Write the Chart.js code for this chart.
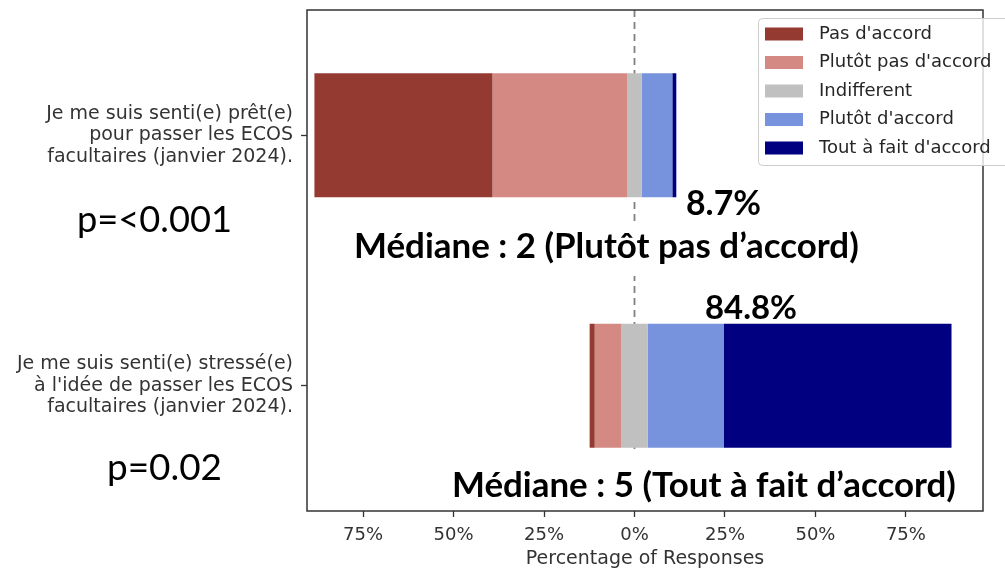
<!DOCTYPE html>
<html>
<head>
<meta charset="utf-8">
<script src="https://cdn.jsdelivr.net/npm/chart.js@4.4.1/dist/chart.umd.min.js"></script>
<style>
  html, body { margin: 0; padding: 0; background: #fff; }
  canvas { display: block; }
</style>
</head>
<body>
<canvas id="myChart" width="1005" height="570"></canvas>
<script>
'use strict';

// ======= data =======

var questions = [
  ['Je me suis senti(e) prêt(e)', 'pour passer les ECOS', 'facultaires (janvier 2024).'],
  ['Je me suis senti(e) stressé(e)', "à l'idée de passer les ECOS", 'facultaires (janvier 2024).']
];

var responseLabels = ["Pas d'accord", "Plutôt pas d'accord", 'Indifferent', "Plutôt d'accord", "Tout à fait d'accord"];
var responseColors = ['#943a30', '#d58983', '#c0c0c0', '#7893dd', '#000080'];

// % of responses for each level, one array per question
var pctReady = [49.2, 37.3, 3.9, 8.5, 1.1];
var pctStress = [1.4, 7.4, 7.2, 21.0, 63.0];

var agreeLabels = ['8.7%', '84.8%'];
var medianLabels = ['Médiane : 2 (Plutôt pas d’accord)', 'Médiane : 5 (Tout à fait d’accord)'];
var pValues = ['p=<0.001', 'p=0.02'];

var xTicks = [-75, -50, -25, 0, 25, 50, 75];
var xMin = -90.5;
var xMax = 96.3;

// ======= end data =======


// bars are centred on the middle of "Indifferent"
function divergingSpans(pcts) {
  var start = -(pcts[0] + pcts[1] + pcts[2] / 2);
  return pcts.map(function (p) {
    var span = [start, start + p];
    start += p;
    return span;
  });
}

var spans = [divergingSpans(pctReady), divergingSpans(pctStress)];

var datasets = responseLabels.map(function (label, i) {
  return {
    label: label,
    data: spans.map(function (s) { return s[i]; }),
    backgroundColor: responseColors[i],
    borderWidth: 0,
    grouped: false,
    barPercentage: 0.495,
    categoryPercentage: 1
  };
});

var textColor = '#333';
var tickFont = { family: 'DejaVu Sans', size: 18, lineHeight: 1.2 };
var labelFont = { family: 'DejaVu Sans', size: 19, lineHeight: 1.14 };

function fitFont(ctx, text, width, weight, family) {
  ctx.font = weight + ' 100px ' + family;
  var size = 100 * width / ctx.measureText(text).width;
  ctx.font = weight + ' ' + size.toFixed(2) + 'px ' + family;
}

// zero line, frame, pasted annotations and the legend box
var overlay = {
  id: 'overlay',
  beforeDatasetsDraw: function (chart) {
    var ctx = chart.ctx;
    var area = chart.chartArea;
    var x0 = chart.scales.x.getPixelForValue(0);
    ctx.save();
    ctx.strokeStyle = '#808080';
    ctx.lineWidth = 1.8;
    ctx.setLineDash([7, 5]);
    ctx.beginPath();
    ctx.moveTo(x0, area.top);
    ctx.lineTo(x0, area.bottom);
    ctx.stroke();
    ctx.restore();
  },
  afterDatasetsDraw: function (chart) {
    var ctx = chart.ctx;
    var area = chart.chartArea;
    ctx.save();
    ctx.strokeStyle = '#333';
    ctx.lineWidth = 1.5;
    ctx.strokeRect(area.left, area.top, area.right - area.left, area.bottom - area.top);

    // white text boxes hide the zero line
    ctx.fillStyle = '#fff';
    ctx.fillRect(345, 224, 525, 52);
    ctx.fillRect(444, 452, 520, 57);

    ctx.fillStyle = '#000';
    ctx.textBaseline = 'alphabetic';
    ctx.textAlign = 'left';
    fitFont(ctx, agreeLabels[0], 75, 'bold', 'Lato');
    ctx.fillText(agreeLabels[0], 686, 215);
    fitFont(ctx, medianLabels[0], 505, 'bold', 'Lato');
    ctx.fillText(medianLabels[0], 354, 258);
    fitFont(ctx, agreeLabels[1], 92, 'bold', 'Lato');
    ctx.fillText(agreeLabels[1], 705, 319);
    fitFont(ctx, medianLabels[1], 504, 'bold', 'Lato');
    ctx.fillText(medianLabels[1], 452, 497);

    fitFont(ctx, pValues[0], 155, 'normal', 'Lato');
    ctx.fillText(pValues[0], 77, 232);
    fitFont(ctx, pValues[1], 115, 'normal', 'Lato');
    ctx.fillText(pValues[1], 107, 480);
    ctx.restore();
  },
  afterDraw: function (chart) {
    var ctx = chart.ctx;
    ctx.save();
    ctx.fillStyle = 'rgba(255,255,255,0.8)';
    ctx.strokeStyle = '#cccccc';
    ctx.lineWidth = 1;
    ctx.beginPath();
    ctx.roundRect(758.5, 18.5, 262, 147, 4);
    ctx.fill();
    ctx.stroke();

    ctx.font = '18px "DejaVu Sans"';
    ctx.textBaseline = 'middle';
    ctx.textAlign = 'left';
    chart.data.datasets.forEach(function (ds, i) {
      var y = 34 + i * 28.5;
      ctx.fillStyle = ds.backgroundColor;
      ctx.fillRect(765, y - 6.5, 38, 13);
      ctx.fillStyle = '#262626';
      ctx.fillText(ds.label, 819, y);
    });
    ctx.restore();
  }
};

var ctx = document.getElementById('myChart').getContext('2d');
var chart = new Chart(ctx, {
  type: 'bar',
  data: {
    labels: questions,
    datasets: datasets
  },
  options: {
    indexAxis: 'y',
    responsive: false,
    animation: false,
    layout: { padding: { top: 10, right: 22, left: 0, bottom: 0 } },
    plugins: {
      legend: { display: false },
      tooltip: { enabled: false }
    },
    scales: {
      x: {
        type: 'linear',
        min: xMin,
        max: xMax,
        afterBuildTicks: function (scale) {
          scale.ticks = xTicks.map(function (v) { return { value: v }; });
        },
        afterFit: function (scale) {
          scale.height = 59;
          scale.paddingLeft = 0;
          scale.paddingRight = 0;
        },
        ticks: {
          callback: function (value) { return Math.abs(value) + '%'; },
          color: textColor,
          font: tickFont,
          padding: 8,
          maxRotation: 0,
          autoSkip: false
        },
        grid: { drawOnChartArea: false, tickLength: 6, tickColor: '#333', tickWidth: 1.3 },
        border: { display: false },
        title: {
          display: true,
          text: 'Percentage of Responses',
          color: textColor,
          font: { family: 'DejaVu Sans', size: 19, lineHeight: 1.2 },
          padding: { top: 0, bottom: 0 }
        }
      },
      y: {
        afterFit: function (scale) {
          scale.width = 307;
          scale.paddingTop = 0;
          scale.paddingBottom = 0;
        },
        ticks: { color: textColor, font: labelFont, padding: 8 },
        grid: { offset: false, drawOnChartArea: false, tickLength: 6, tickColor: '#333', tickWidth: 1.3 },
        border: { display: false }
      }
    }
  },
  plugins: [overlay]
});
</script>
</body>
</html>
